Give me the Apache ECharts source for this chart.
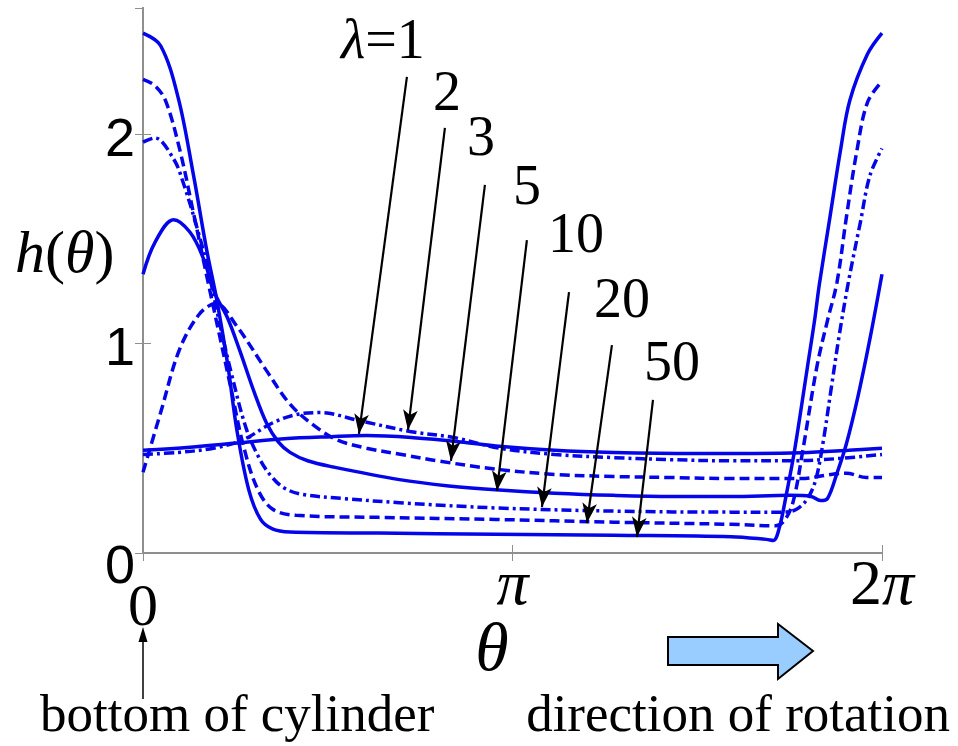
<!DOCTYPE html>
<html>
<head>
<meta charset="utf-8">
<script src="https://cdn.jsdelivr.net/npm/echarts@6.0.0/dist/echarts.min.js"></script>
<style>
  html, body { margin: 0; padding: 0; background: #fff; }
  #main { width: 958px; height: 746px; }
</style>
</head>
<body>
<div id="main"></div>
<script>
// h(theta) for each lambda as [theta, h]
var lam1 = [[0,0.49],[0.4,0.505],[0.8,0.525],[1.2,0.545],[1.6,0.555],[1.9,0.56],[2.3,0.55],[2.7,0.53],[3.0,0.51],[3.5,0.49],[4.0,0.48],[4.7,0.475],[5.2,0.475],[5.6,0.478],[6.0,0.49],[6.283,0.50]];
var lam2 = [[0,0.47],[0.3,0.48],[0.6,0.5],[0.85,0.54],[1.1,0.62],[1.3,0.66],[1.5,0.67],[1.85,0.63],[2.27,0.58],[2.65,0.55],[3.03,0.50],[3.5,0.47],[4.0,0.455],[4.5,0.445],[5.0,0.44],[5.5,0.44],[5.9,0.45],[6.283,0.47]];
var lam3 = [[0,0.385],[0.15,0.67],[0.31,0.97],[0.48,1.14],[0.62,1.19],[0.8,1.08],[1.05,0.87],[1.25,0.71],[1.45,0.61],[1.65,0.54],[1.9,0.50],[2.2,0.47],[2.5,0.44],[3.0,0.40],[3.5,0.375],[4.0,0.365],[4.5,0.36],[5.0,0.355],[5.6,0.355],[5.85,0.375],[5.98,0.38],[6.15,0.36],[6.283,0.36]];
var lam5 = [[0,1.33],[0.1,1.48],[0.26,1.59],[0.4,1.53],[0.51,1.41],[0.61,1.24],[0.72,1.12],[0.82,0.97],[0.95,0.76],[1.05,0.62],[1.15,0.53],[1.25,0.48],[1.4,0.44],[1.62,0.41],[2.18,0.35],[2.6,0.32],[3.03,0.30],[3.5,0.285],[4.0,0.275],[4.5,0.27],[5.0,0.27],[5.5,0.275],[5.68,0.27],[5.76,0.25],[5.82,0.26],[5.9,0.38],[5.98,0.52],[6.08,0.75],[6.18,1.02],[6.283,1.33]];
var lam10 = [[0,1.96],[0.1,1.98],[0.26,1.88],[0.34,1.77],[0.46,1.55],[0.55,1.36],[0.65,1.1],[0.75,0.86],[0.88,0.59],[1.0,0.44],[1.1,0.36],[1.2,0.31],[1.35,0.28],[1.7,0.26],[2.18,0.24],[3.0,0.215],[4.0,0.2],[5.0,0.195],[5.45,0.195],[5.56,0.21],[5.65,0.26],[5.72,0.35],[5.78,0.52],[5.85,0.78],[5.92,1.04],[6.0,1.3],[6.1,1.58],[6.18,1.8],[6.283,1.93]];
var lam20 = [[0,2.26],[0.1,2.23],[0.19,2.16],[0.31,1.93],[0.43,1.62],[0.55,1.3],[0.65,1.04],[0.75,0.78],[0.85,0.52],[0.97,0.31],[1.1,0.21],[1.3,0.18],[2.0,0.17],[3.0,0.16],[4.0,0.147],[5.0,0.137],[5.38,0.13],[5.46,0.16],[5.53,0.25],[5.61,0.49],[5.73,0.89],[5.82,1.11],[5.9,1.29],[5.98,1.6],[6.07,1.92],[6.16,2.15],[6.283,2.25]];
var lam50 = [[0,2.48],[0.15,2.42],[0.3,2.17],[0.43,1.8],[0.54,1.45],[0.63,1.2],[0.72,0.9],[0.8,0.58],[0.9,0.3],[1.0,0.16],[1.1,0.115],[1.25,0.1],[2.0,0.095],[3.0,0.09],[4.0,0.085],[5.0,0.078],[5.3,0.065],[5.36,0.06],[5.41,0.12],[5.47,0.28],[5.54,0.49],[5.65,0.89],[5.71,1.11],[5.75,1.28],[5.84,1.6],[5.93,1.92],[6.01,2.16],[6.16,2.38],[6.283,2.48]];

var lambdas = ['1', '2', '3', '5', '10', '20', '50'];
var xTickLabels = ['0', 'π', '2π'];
var yTickLabels = ['0', '1', '2'];

// annotation arrows (tail -> head) and label positions, in data units
var arrowFrom = [[2.244,2.271],[2.567,2.028],[2.907,1.756],[3.264,1.493],[3.622,1.245],[3.987,0.992],[4.336,0.730]];
var arrowTo = [[1.836,0.568],[2.253,0.587],[2.618,0.439],[3.009,0.296],[3.392,0.219],[3.774,0.143],[4.2,0.076]];
var labelAt = [[2.04,2.433],[2.584,2.185],[2.873,1.970],[3.264,1.737],[3.681,1.508],[4.072,1.198],[4.497,0.897]];

var curves = [lam1, lam2, lam3, lam5, lam10, lam20, lam50];
var dash = [10, 5];
var dashDot = [10, 4, 3, 4];
var lineTypes = ['solid', dashDot, dash, 'solid', dashDot, dash, 'solid'];

var blue = '#0505ea';
var gray = '#8f8f8f';
var serif = 'Liberation Serif';
var sans = 'Liberation Sans';

var chartDom = document.getElementById('main');
var myChart = echarts.init(chartDom);
var option;

var series = curves.map(function (d, i) {
  return {
    name: 'λ=' + lambdas[i],
    type: 'line',
    data: d,
    smooth: 0.35,
    showSymbol: false,
    symbol: 'none',
    clip: true,
    lineStyle: { color: blue, width: 3.5, type: lineTypes[i], cap: 'butt' },
    z: 2
  };
});

series.push({
  type: 'scatter',
  symbolSize: 0,
  itemStyle: { opacity: 1 },
  data: labelAt.map(function (p, i) { return [p[0], p[1], i]; }),
  label: {
    show: true,
    position: 'inside',
    align: 'center',
    verticalAlign: 'middle',
    color: '#000',
    fontFamily: serif,
    fontSize: 56,
    formatter: function (p) {
      var i = p.value[2];
      return i === 0 ? '{it|λ}{n|=1}' : '{n|' + lambdas[i] + '}';
    },
    rich: {
      it: { fontStyle: 'italic', fontFamily: serif, fontSize: 56, color: '#000' },
      n: { fontFamily: serif, fontSize: 56, color: '#000' }
    }
  },
  markLine: {
    silent: true,
    symbol: ['none', 'arrow'],
    symbolSize: [11, 20],
    label: { show: false },
    lineStyle: { color: '#000', width: 2.2, type: 'solid', opacity: 1 },
    data: arrowFrom.map(function (p, i) {
      return [{ coord: p }, { coord: arrowTo[i] }];
    })
  },
  z: 5
});

option = {
  animation: false,
  backgroundColor: '#fff',
  grid: { left: 143, right: 76, top: 8, bottom: 193, outerBoundsMode: 'none', containLabel: false },
  xAxis: [
    {
      type: 'value', min: 0, max: 2 * Math.PI, interval: Math.PI,
      axisLine: { show: true, lineStyle: { color: gray, width: 2 } },
      axisTick: { show: true, inside: true, length: 8, lineStyle: { color: gray } },
      splitLine: { show: false },
      axisLabel: {
        margin: 2,
        fontFamily: serif,
        formatter: function (v) {
          var i = Math.round(v / Math.PI);
          var t = xTickLabels[i];
          if (t === undefined) return '';
          if (i === 0) return '{z|' + t + '}';
          if (t.length > 1) return '{d|' + t.slice(0, -1) + '}{p|' + t.slice(-1) + '}';
          return '{p|' + t + '}';
        },
        rich: {
          z: { fontFamily: serif, fontSize: 60, color: '#000', padding: [24, 0, 0, 0] },
          d: { fontFamily: serif, fontSize: 64, color: '#000' },
          p: { fontFamily: serif, fontSize: 64, fontStyle: 'italic', color: '#000' }
        }
      }
    },
    {
      type: 'value', position: 'top', min: 0, max: 2 * Math.PI, interval: Math.PI,
      axisLine: { show: true, lineStyle: { color: gray, width: 2 } },
      axisTick: { show: true, inside: true, length: 8, lineStyle: { color: gray } },
      axisLabel: { show: false }, splitLine: { show: false }
    }
  ],
  yAxis: [
    {
      type: 'value', min: 0, max: 2.6, interval: 1,
      axisLine: { show: true, lineStyle: { color: gray, width: 2 } },
      axisTick: { show: true, inside: true, length: 8, lineStyle: { color: gray } },
      splitLine: { show: false },
      axisLabel: {
        margin: 8,
        showMaxLabel: false,
        fontFamily: sans,
        formatter: function (v) {
          if (Math.abs(v - Math.round(v)) > 1e-6) return '';
          var i = Math.round(v);
          if (yTickLabels[i] === undefined) return '';
          return i === 0 ? '{z|' + yTickLabels[0] + '}' : '{n|' + yTickLabels[i] + '}';
        },
        rich: {
          z: { fontFamily: sans, fontSize: 54, color: '#000', padding: [30, 0, 0, 0] },
          n: { fontFamily: sans, fontSize: 54, color: '#000', padding: [14, 0, 0, 0] }
        }
      }
    },
    {
      type: 'value', position: 'right', min: 0, max: 2.6, interval: 1,
      axisLine: { show: true, lineStyle: { color: gray, width: 2 } },
      axisTick: { show: true, inside: true, length: 8, lineStyle: { color: gray } },
      axisLabel: { show: false }, splitLine: { show: false }
    }
  ],
  series: series,
  graphic: [
    {
      type: 'text', left: 15, top: 226,
      style: {
        text: '{i|h}{n|(}{i|θ}{n|)}', fill: '#000',
        rich: {
          i: { fontStyle: 'italic', fontFamily: serif, fontSize: 60 },
          n: { fontFamily: serif, fontSize: 60 }
        }
      }
    },
    {
      type: 'text', x: 492, y: 652,
      style: { text: 'θ', fontFamily: serif, fontStyle: 'italic', fontSize: 68, fill: '#000', align: 'center', verticalAlign: 'middle' }
    },
    {
      type: 'text', x: 40, y: 717,
      style: { text: 'bottom of cylinder', fontFamily: serif, fontSize: 53, fill: '#000', align: 'left', verticalAlign: 'middle' }
    },
    {
      type: 'text', x: 950, y: 717,
      style: { text: 'direction of rotation', fontFamily: serif, fontSize: 53, fill: '#000', align: 'right', verticalAlign: 'middle' }
    },
    {
      type: 'line',
      shape: { x1: 143, y1: 699, x2: 143, y2: 636 },
      style: { stroke: '#000', lineWidth: 1.5 }
    },
    {
      type: 'polygon',
      shape: { points: [[138.5, 642], [143, 627], [147.5, 642]] },
      style: { fill: '#000' }
    },
    {
      type: 'polygon',
      shape: { points: [[668, 637], [778, 637], [778, 624], [813, 651], [778, 679], [778, 665], [668, 665]] },
      style: { fill: '#99ccff', stroke: '#000', lineWidth: 2 }
    }
  ]
};

option && myChart.setOption(option);
</script>
</body>
</html>
